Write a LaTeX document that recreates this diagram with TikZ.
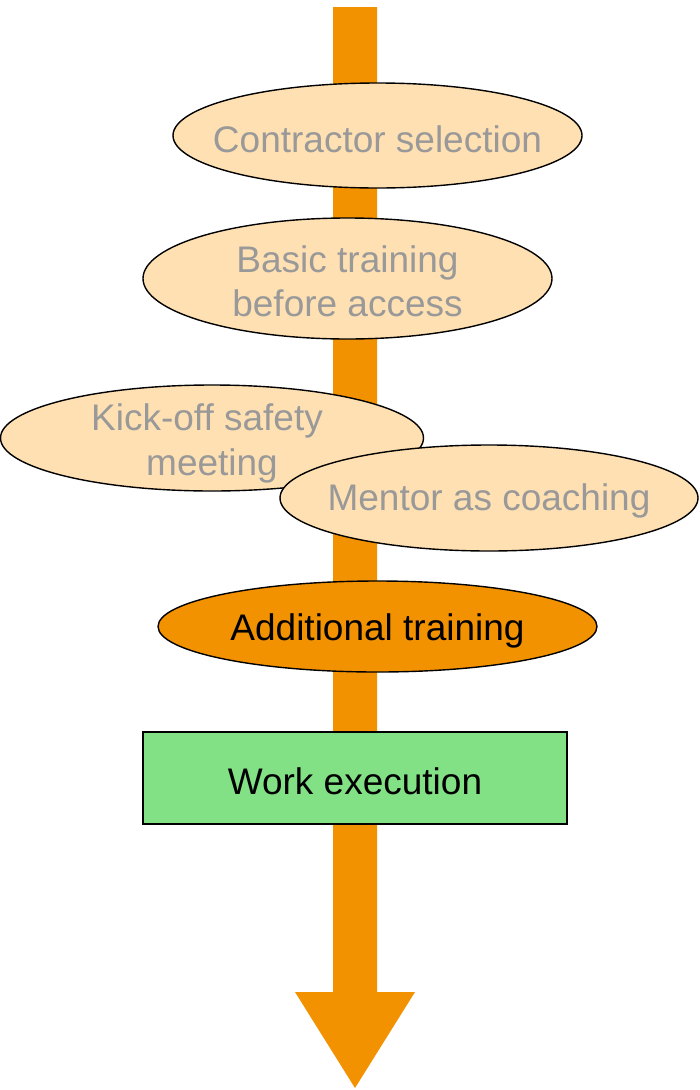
\documentclass[tikz,border=0pt]{standalone}
\usepackage{fontspec}
\setmainfont{Liberation Sans}
\usetikzlibrary{shapes.geometric}
\definecolor{barorange}{RGB}{243,146,0}
\definecolor{lightorange}{RGB}{255,224,178}
\definecolor{greytext}{RGB}{153,153,153}
\definecolor{boxgreen}{RGB}{130,224,133}
\tikzset{
  stagetext/.style={text=greytext, inner sep=0pt, align=center, yshift=-3pt, font=\fontsize{37}{44}\selectfont},
  activetext/.style={stagetext, text=black},
  stage/.style={ellipse, draw=black, line width=1.4pt, fill=lightorange, inner sep=0pt},
  activestage/.style={stage, fill=barorange},
  workbox/.style={rectangle, draw=black, line width=1.4pt, fill=boxgreen, inner sep=0pt},
}
\begin{document}
\begin{tikzpicture}[x=1pt,y=-1pt]
\useasboundingbox (0,0) rectangle (699,1090);
% backbone arrow
\fill[barorange] (333,7) -- (377,7) -- (377,992) -- (415,992) -- (355,1088) -- (295,992) -- (333,992) -- cycle;
% stages
\node[stage, minimum width=409pt, minimum height=105pt,
  label={[stagetext, yshift=-1pt]center:Contractor selection}] (contractor) at (377.5,135.5) {};
\node[stage, minimum width=409pt, minimum height=121pt,
  label={[stagetext]center:{Basic training\\before access}}] (basic) at (347.5,278.5) {};
\node[stage, minimum width=423pt, minimum height=106pt,
  label={[stagetext, xshift=-5pt, yshift=-2pt, font=\fontsize{37}{45}\selectfont]center:{Kick-off safety\\\hspace*{10pt}meeting}}] (kickoff) at (212,438) {};
\node[stage, minimum width=418pt, minimum height=106pt,
  label={[stagetext]center:Mentor as coaching}] (mentor) at (489,498) {};
\node[activestage, minimum width=439pt, minimum height=91pt,
  label={[activetext, yshift=-1pt]center:Additional training}] (additional) at (377.5,626.5) {};
\node[workbox, minimum width=424pt, minimum height=92pt,
  label={[activetext]center:Work execution}] (work) at (355,778) {};
\end{tikzpicture}
\end{document}
